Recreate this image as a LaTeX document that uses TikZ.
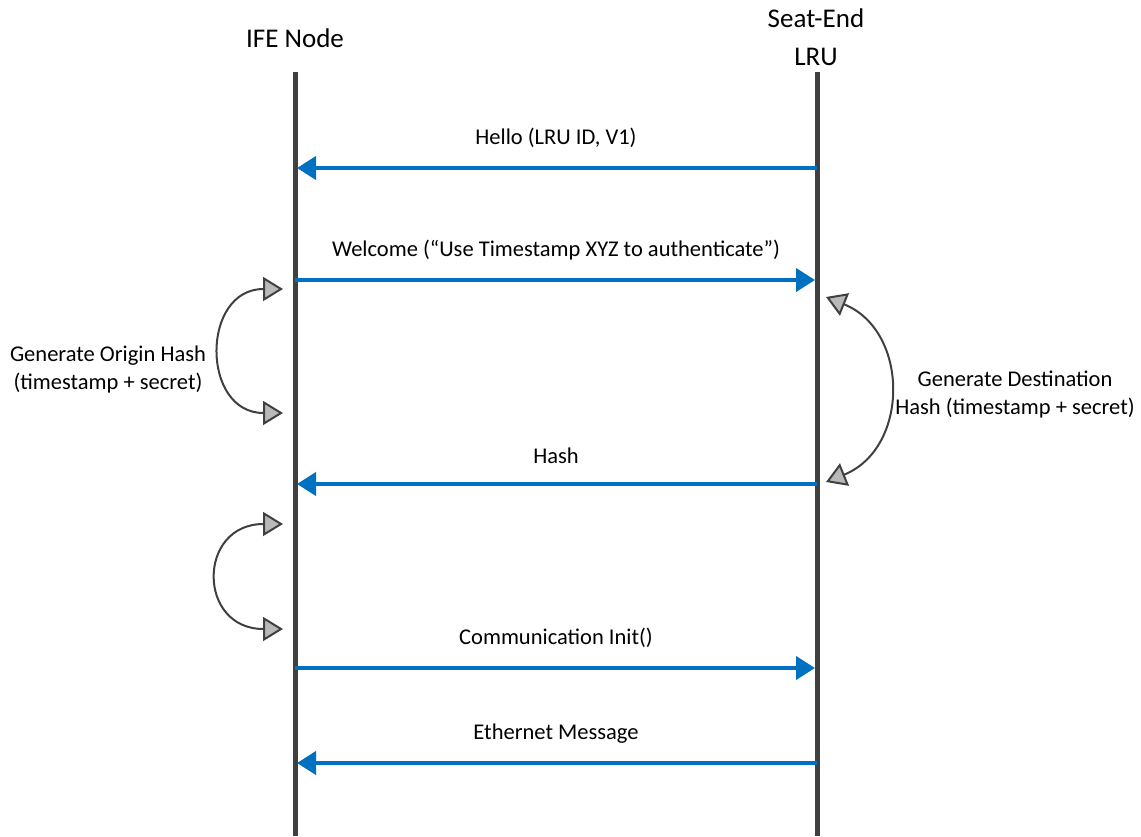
\documentclass[tikz,border=0pt]{standalone}
\usepackage{fontspec}
\setmainfont{Carlito}
\usetikzlibrary{arrows.meta}
\definecolor{msgblue}{RGB}{0,112,192}
\definecolor{linegray}{RGB}{64,64,64}
\definecolor{tipgray}{RGB}{185,185,185}
\tikzset{
	lifeline/.style={draw=linegray, line width=5pt},
	msg/.style={draw=msgblue, line width=4pt, shorten >=2pt,
		-{Triangle[length=19pt, width=23pt, fill=msgblue]}},
	msglabel/.style={midway, above=18pt, inner sep=0pt, font=\fontsize{22.5}{27}\selectfont},
	calc arrow/.style={draw=linegray, line width=2pt,
		{Triangle[length=20pt, width=24pt, fill=tipgray]}-{Triangle[length=20pt, width=24pt, fill=tipgray]}},
	head/.style={font=\fontsize{27}{38}\selectfont, align=center},
	side/.style={font=\fontsize{22.5}{28}\selectfont, align=center}
}
\begin{document}
\begin{tikzpicture}[x=1pt, y=-1pt]
	\useasboundingbox (0,0) rectangle (1141,836);
	% lifelines
	\node[head] (ife) at (295,38) {IFE Node};
	\node[head] (seat) at (816,37) {Seat-End\\LRU};
	\coordinate (ifeTop) at (295,72);
	\coordinate (ifeBot) at (295,836);
	\coordinate (seatTop) at (817,72);
	\coordinate (seatBot) at (817,836);
	\draw[lifeline] (ifeTop) -- (ifeBot);
	\draw[lifeline] (seatTop) -- (seatBot);
	% message points
	\foreach \n/\y in {hello/168, welcome/280, hash/484, init/668, eth/763} {
		\coordinate (ife-\n) at (295,\y);
		\coordinate (seat-\n) at (817,\y);
	}
	\draw[msg] (seat-hello) -- node[msglabel] {Hello (LRU ID, V1)} (ife-hello);
	\draw[msg] (ife-welcome) -- node[msglabel] {Welcome (“Use Timestamp XYZ to authenticate”)} (seat-welcome);
	\draw[msg] (seat-hash) -- node[msglabel] {Hash} (ife-hash);
	\draw[msg] (ife-init) -- node[msglabel] {Communication Init()} (seat-init);
	\draw[msg] (seat-eth) -- node[msglabel] {Ethernet Message} (ife-eth);
	% local computations
	\coordinate (orig1) at (283,289);
	\coordinate (orig2) at (283,413);
	\coordinate (orig3) at (283,524);
	\coordinate (orig4) at (283,629);
	\coordinate (dest1) at (826,297);
	\coordinate (dest2) at (826,482);
	\draw[calc arrow] (orig1) to[out=180, in=180, looseness=1.7] (orig2);
	\draw[calc arrow] (orig3) to[out=180, in=180, looseness=2.1] (orig4);
	\draw[calc arrow] (dest1) to[out=-22, in=22, looseness=1.25] (dest2);
	\node[side] (origtext) at (108,369) {Generate Origin Hash\\(timestamp + secret)};
	\node[side] (desttext) at (1015,395) {Generate Destination\\Hash (timestamp + secret)};
\end{tikzpicture}
\end{document}
